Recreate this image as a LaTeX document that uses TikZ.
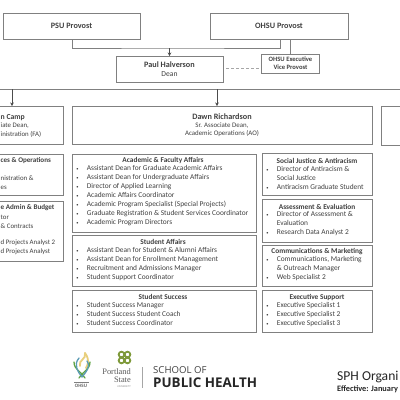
\documentclass[tikz,border=0pt]{standalone}
\usepackage{fontspec}
\setmainfont{Carlito}
\newfontfamily\serifx{Liberation Serif}
\newfontfamily\sansx{Open Sans}
\usetikzlibrary{arrows.meta}
\definecolor{txt}{gray}{0.25}
\definecolor{ln}{gray}{0.5}
\definecolor{ogreen}{HTML}{5FA343}
\definecolor{oblue}{HTML}{5B9BB5}
\definecolor{oyellow}{HTML}{E8CF7C}
\definecolor{psug}{HTML}{7F9A3B}
\newcommand{\bu}[1]{\makebox[13.7pt][l]{\hspace{3.2pt}\scalebox{.6}{\textbullet}}#1}
\newcommand{\cn}[1]{\hspace*{13.7pt}#1}
\tikzset{x=1pt,y=-1pt,
  bx/.style={draw=ln,line width=.9pt,fill=white,inner sep=0,outer sep=0},
  conn/.style={draw=ln,line width=.9pt},
  arr/.style={draw=black!70,line width=.6pt,-{Stealth[length=3.5pt,width=3.5pt]}},
  bt/.style={text=txt,inner sep=0,font=\fontsize{7.35}{9}\selectfont\bfseries,align=center},
  btl/.style={text=txt,inner sep=0,font=\fontsize{8.2}{9}\selectfont\bfseries,align=center},
  rt/.style={text=txt,inner sep=0,font=\fontsize{6.9}{7.5}\selectfont,align=center},
  lst/.style={text=txt,inner sep=0,font=\fontsize{7.4}{8.95}\selectfont,align=left,anchor=north west},
  edge/.style={text=txt,inner sep=0,font=\fontsize{6.85}{9}\selectfont,anchor=west},
  edgeb/.style={text=txt,inner sep=0,font=\fontsize{7.1}{9}\selectfont\bfseries,anchor=west}}
\begin{document}
\begin{tikzpicture}
\clip (0,0) rectangle (400,400);
\fill[white] (0,0) rectangle (400,400);
% top boxes
\node[bx,minimum width=137pt,minimum height=26pt] (psu) at (71.5,26) {};
\node[btl] (psut) at (71.5,26) {PSU Provost};
\node[bx,minimum width=138pt,minimum height=26pt] (ohsu) at (279,26) {};
\node[btl] (ohsut) at (279,26) {OHSU Provost};
\node[bx,minimum width=107pt,minimum height=26pt] (dean) at (169.5,69) {};
\node[btl] (deant) at (169.5,64.5) {Paul Halverson};
\node[rt,font=\fontsize{7.6}{8}\selectfont] (deanr) at (169.5,74) {Dean};
\node[bx,minimum width=57.5pt,minimum height=19pt] (evp) at (290.5,63.5) {};
\node[bt,font=\fontsize{6.6}{8.3}\selectfont\bfseries] (evpt) at (290.5,63.5) {OHSU Executive\\Vice Provost};
% connectors
\coordinate (psuo) at (72,39);
\coordinate (ohsuo) at (280,39);
\coordinate (deanin) at (169.5,48);
\draw[conn] (psuo) -- (72,48) -- (deanin) -- (280,48) -- (ohsuo);
\draw[arr] (deanin) -- (dean.north -| deanin);
\draw[conn] (ohsu.south -| evp) -- (evp.north);
\draw[conn,densely dashed,line width=.5pt,draw=ln!70,shorten <=3pt,shorten >=2pt] (dean.east |- 0,68) -- (evp.west |- 0,68);
\coordinate (busl) at (0,89);
\coordinate (busr) at (400,89);
\draw[conn] (busl) -- (busr);
% second row
\node[bx,minimum width=83pt,minimum height=38pt,anchor=north east] (camp) at (63,106) {};
\node[edgeb,font=\fontsize{7.7}{9}\selectfont\bfseries] (campt) at (0.5,117.5) {n Camp};
\node[edge] (campa) at (0.5,126) {iate Dean,};
\node[edge] (campb) at (0.5,134.5) {inistration (FA)};
\node[bx,minimum width=300pt,minimum height=38pt,anchor=north west] (dawn) at (72,106) {};
\node[btl] (dawnt) at (222,117) {Dawn Richardson};
\node[rt] (dawnr) at (222,129.5) {Sr. Associate Dean,\\Academic Operations (AO)};
\node[bx,minimum width=40pt,minimum height=39pt,anchor=north west] (rbox) at (381,106) {};
\coordinate (cx) at (12,89);
\coordinate (dx) at (217,89);
\draw[arr] (cx) -- (cx |- camp.north);
\draw[arr] (dx) -- (dx |- dawn.north);
% left column
\node[bx,minimum width=83pt,minimum height=41pt,anchor=north east] (ops) at (63,154) {};
\node[edgeb] (opst) at (0.5,161) {ces \& Operations};
\node[edge] (opsa) at (0.5,178.5) {nistration \&};
\node[edge] (opsb) at (0.5,187.5) {es};
\node[bx,minimum width=83pt,minimum height=60pt,anchor=north east] (adm) at (63,201) {};
\node[edgeb] (admt) at (0.5,208) {e Admin \& Budget};
\node[edge] (adma) at (0.5,217) {tor};
\node[edge] (admb) at (0.5,226) {\& Contracts};
\node[edge] (admc) at (0.5,243) {d Projects Analyst 2};
\node[edge] (admd) at (0.5,252) {d Projects Analyst};
% middle column
\node[bx,minimum width=184pt,minimum height=78pt,anchor=north west] (acad) at (72,154) {};
\node[bt] (acadt) at (163,160.7) {Academic \& Faculty Affairs};
\node[lst] (acadl) at (73,165.5) {\bu{Assistant Dean for Graduate Academic Affairs}\\\bu{Assistant Dean for Undergraduate Affairs}\\\bu{Director of Applied Learning}\\\bu{Academic Affairs Coordinator}\\\bu{Academic Program Specialist (Special Projects)}\\\bu{Graduate Registration \& Student Services Coordinator}\\\bu{Academic Program Directors}};
\node[bx,minimum width=184pt,minimum height=51pt,anchor=north west] (stu) at (72,235) {};
\node[bt] (stut) at (163,242) {Student Affairs};
\node[lst] (stul) at (73,247) {\bu{Assistant Dean for Student \& Alumni Affairs}\\\bu{Assistant Dean for Enrollment Management}\\\bu{Recruitment and Admissions Manager}\\\bu{Student Support Coordinator}};
\node[bx,minimum width=184pt,minimum height=42pt,anchor=north west] (succ) at (72,290) {};
\node[bt] (succt) at (163,297.3) {Student Success};
\node[lst] (succl) at (73,301.8) {\bu{Student Success Manager}\\\bu{Student Success Student Coach}\\\bu{Student Success Coordinator}};
% right column
\node[bx,minimum width=110pt,minimum height=42pt,anchor=north west] (soc) at (262,153.5) {};
\node[bt] (soct) at (317,161) {Social Justice \& Antiracism};
\node[lst] (socl) at (263,165.8) {\bu{Director of Antiracism \&}\\\cn{Social Justice}\\\bu{Antiracism Graduate Student}};
\node[bx,minimum width=110pt,minimum height=43pt,anchor=north west] (ass) at (262,199) {};
\node[bt] (asst) at (317,206.7) {Assessment \& Evaluation};
\node[lst] (assl) at (263,211.1) {\bu{Director of Assessment \&}\\\cn{Evaluation}\\\bu{Research Data Analyst 2}};
\node[bx,minimum width=110pt,minimum height=41pt,anchor=north west] (com) at (262,245) {};
\node[bt] (comt) at (317,251.3) {Communications \& Marketing};
\node[lst] (coml) at (263,256.5) {\bu{Communications, Marketing}\\\cn{\& Outreach Manager}\\\bu{Web Specialist 2}};
\node[bx,minimum width=110pt,minimum height=42pt,anchor=north west] (exe) at (262,290) {};
\node[bt] (exet) at (317,297) {Executive Support};
\node[lst] (exel) at (263,301.8) {\bu{Executive Specialist 1}\\\bu{Executive Specialist 2}\\\bu{Executive Specialist 3}};
% logos
\begin{scope}[line width=1.3pt,line cap=round]
\draw[oyellow,line width=1.8pt] (85,353) .. controls (87,359) and (78,360) .. (80,366);
\draw[oyellow,line width=1.8pt] (85,353) .. controls (90,360) and (88,364) .. (86,368);
\draw[ogreen] (74,362) .. controls (74,370) and (82,372) .. (85,378);
\draw[ogreen] (90,362) .. controls (90,370) and (82,372) .. (79,378);
\draw[oblue] (79,358) .. controls (73,365) and (78,372) .. (82,377);
\draw[oblue] (87,361) .. controls (91,367) and (86,372) .. (82,377);
\end{scope}
\draw[gray,line width=.5pt] (74,382) -- (89,382);
\node[text=gray!80!black,inner sep=0,font=\fontsize{5}{5}\selectfont\bfseries] (ohsulogo) at (81,385.5) {OHSU};
\draw[psug,line width=1.8pt] (121.5,354.5) circle (2.8) (127.5,354.5) circle (2.8) (121.5,360.5) circle (2.8) (127.5,360.5) circle (2.8);
\node[text=gray!70!black,inner sep=0,anchor=east,font=\serifx\fontsize{8.4}{8.4}\selectfont] (pl) at (131,372) {Portland};
\node[text=gray!70!black,inner sep=0,anchor=east,font=\serifx\fontsize{8.4}{8.4}\selectfont] (st) at (131,380) {State};
\node[text=gray,inner sep=0,anchor=east,font=\sansx\fontsize{2.5}{3}\selectfont] (un) at (131,387) {UNIVERSITY};
\draw[gray!70,line width=.6pt] (142,367) -- (142,388);
\node[text=black!75,inner sep=0,anchor=west,font=\sansx\fontsize{9.6}{10}\selectfont] (sof) at (153,370) {SCHOOL OF};
\node[text=black!85,inner sep=0,anchor=west,font=\sansx\bfseries\fontsize{13.4}{14}\selectfont] (pub) at (153,383) {PUBLIC HEALTH};
\node[text=black!85,inner sep=0,anchor=west,font=\fontsize{13.6}{15}\selectfont] (org) at (337,377) {SPH Organi};
\node[text=black!85,inner sep=0,anchor=west,font=\fontsize{8.3}{8}\selectfont\bfseries] (eff) at (337,389.5) {Effective: January};
\end{tikzpicture}
\end{document}
